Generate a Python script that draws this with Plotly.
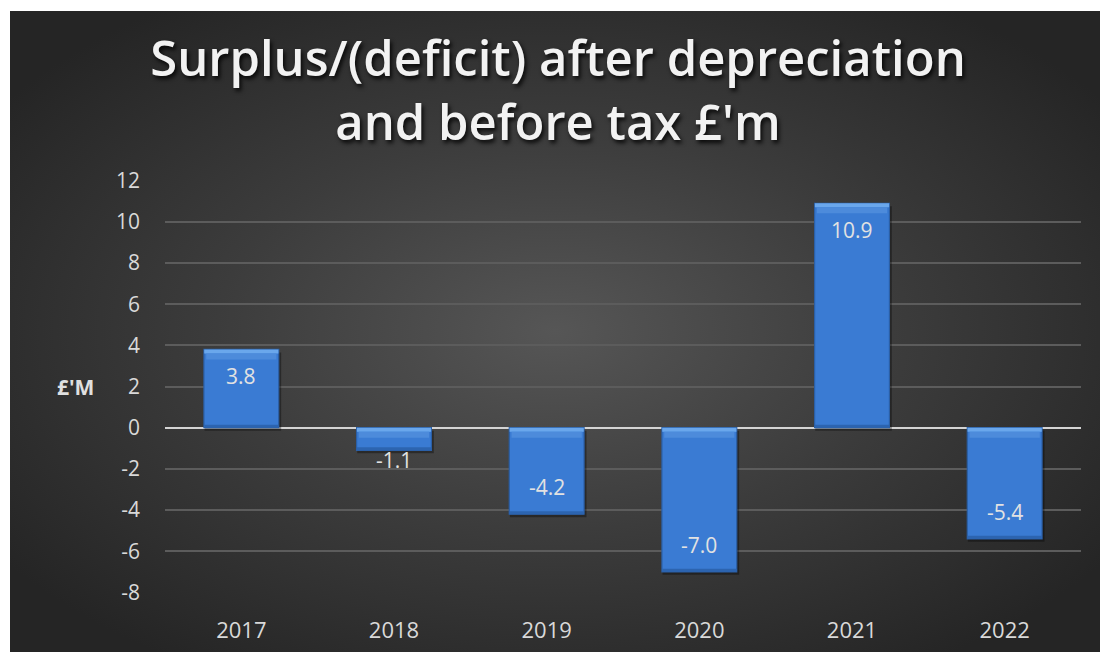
import base64
import plotly.graph_objects as go

# Financial years and surplus/(deficit) in £ millions
years = ["2017", "2018", "2019", "2020", "2021", "2022"]
surplus = [3.8, -1.1, -4.2, -7.0, 10.9, -5.4]
y_ticks = [-8, -6, -4, -2, 0, 2, 4, 6, 8, 10, 12]
y_tick_labels = [str(t) for t in y_ticks]

W, H = 1103, 652
ML, MR, MT, MB = 165, 22, 180, 59
PLOT_W = W - ML - MR
PLOT_H = H - MT - MB
Y_MIN, Y_MAX = -8.03, 12.03
PX_PER_UNIT = PLOT_H / (Y_MAX - Y_MIN)
BAR_W = 0.49


def px_to_paper_x(px):
    return (px - ML) / PLOT_W


def px_to_paper_y(py):
    return (H - MB - py) / PLOT_H


# Dark panel with a soft radial glow, drawn as an SVG background image
panel_left, panel_right, panel_top, panel_bottom = 10, 1100, 11, H
svg = (
    '<svg xmlns="http://www.w3.org/2000/svg" width="1090" height="641" '
    'viewBox="0 0 1090 641" preserveAspectRatio="none">'
    '<defs><radialGradient id="g" cx="0.5" cy="0.5" r="0.62">'
    '<stop offset="0" stop-color="#565656"/>'
    '<stop offset="0.5" stop-color="#3c3c3c"/>'
    '<stop offset="1" stop-color="#252525"/>'
    '</radialGradient></defs>'
    '<rect width="1090" height="641" fill="url(#g)"/></svg>'
)
bg_src = "data:image/svg+xml;base64," + base64.b64encode(svg.encode()).decode()

fig = go.Figure()

# Soft drop shadow under each bar
shadow_dy = 3 / PX_PER_UNIT
fig.add_trace(
    go.Bar(
        x=years, y=list(surplus), base=[-shadow_dy] * len(surplus),
        width=BAR_W + 0.012, offset=-(BAR_W / 2) + 0.004,
        marker=dict(color="rgba(0,0,0,0.35)", line=dict(width=0)),
        hoverinfo="skip", showlegend=False,
    )
)

# Main bars
fig.add_trace(
    go.Bar(
        x=years,
        y=surplus,
        width=BAR_W,
        marker=dict(color="#3a7bd3", line=dict(color="#2b5fa6", width=1.2)),
        hovertemplate="%{x}: %{y:.1f}<extra></extra>",
        showlegend=False,
    )
)

# Bevel highlight along the upper edge and a darker lower rim of each bar
bevel_outer = 4 / PX_PER_UNIT
bevel_inner = 6 / PX_PER_UNIT
rim = 3 / PX_PER_UNIT
tops = [max(v, 0) for v in surplus]
bottoms = [min(v, 0) for v in surplus]
fig.add_trace(
    go.Bar(
        x=years, y=[-bevel_outer] * len(surplus), base=tops, width=BAR_W - 0.004,
        marker=dict(color="#6aa7ec", line=dict(width=0)),
        hoverinfo="skip", showlegend=False,
    )
)
fig.add_trace(
    go.Bar(
        x=years, y=[-bevel_inner] * len(surplus),
        base=[t - bevel_outer for t in tops], width=BAR_W - 0.03,
        marker=dict(color="#4d8bdb", line=dict(width=0)),
        hoverinfo="skip", showlegend=False,
    )
)
fig.add_trace(
    go.Bar(
        x=years, y=[rim] * len(surplus), base=bottoms, width=BAR_W - 0.004,
        marker=dict(color="#2c64b0", line=dict(width=0)),
        hoverinfo="skip", showlegend=False,
    )
)

# Value labels placed just inside the end of each bar (outside when the bar is short)
annotations = []
for i, v in enumerate(surplus):
    bar_len = abs(v) * PX_PER_UNIT
    if bar_len > 45:
        shift = -27 if v > 0 else 27
    else:
        shift = 10 if v > 0 else -10
    annotations.append(
        dict(
            x=i, y=v, yshift=shift, text=f"{v:.1f}", showarrow=False,
            font=dict(family="Open Sans", size=21, color="#e2e2e2"),
            xanchor="center", yanchor="middle",
        )
    )

annotations.append(
    dict(
        x=px_to_paper_x(75), y=0.5, xref="paper", yref="paper",
        text="<b>£'M</b>", showarrow=False,
        font=dict(family="Open Sans", size=21, color="#e0e0e0"),
        xanchor="center", yanchor="middle",
    )
)

fig.update_layout(
    width=W,
    height=H,
    margin=dict(l=ML, r=MR, t=MT, b=MB, autoexpand=False),
    paper_bgcolor="white",
    plot_bgcolor="rgba(0,0,0,0)",
    barmode="overlay",
    title=dict(
        text="Surplus/(deficit) after depreciation<br>and before tax £'m",
        x=558 / W, xref="container", xanchor="center",
        y=1 - 76 / H, yref="container", yanchor="middle",
        font=dict(family="Open Sans", size=49, color="#f2f2f2", weight=600,
                  shadow="2px 3px 4px rgba(0,0,0,0.85)"),
    ),
    images=[
        dict(
            source=bg_src, xref="paper", yref="paper",
            x=px_to_paper_x(panel_left), y=px_to_paper_y(panel_top),
            sizex=px_to_paper_x(panel_right) - px_to_paper_x(panel_left),
            sizey=px_to_paper_y(panel_top) - px_to_paper_y(panel_bottom),
            xanchor="left", yanchor="top", sizing="stretch", layer="below",
        )
    ],
    annotations=annotations,
    xaxis=dict(
        type="category", range=[-0.5, len(years) - 0.5], automargin=False,
        showgrid=False, zeroline=False, showline=False, ticks="",
        tickfont=dict(family="Open Sans", size=22, color="#d9d9d9"),
        ticklabelstandoff=22,
    ),
    yaxis=dict(
        range=[Y_MIN, Y_MAX], tickvals=y_ticks, ticktext=y_tick_labels,
        automargin=False,
        showgrid=True, gridcolor="#5c5c5c", gridwidth=1.5,
        zeroline=True, zerolinecolor="#d4d4d4", zerolinewidth=2,
        showline=False, ticks="",
        tickfont=dict(family="Open Sans", size=21, color="#d9d9d9"),
        ticklabelstandoff=24,
    ),
    font=dict(family="Open Sans"),
)

fig.write_html("out.html")
